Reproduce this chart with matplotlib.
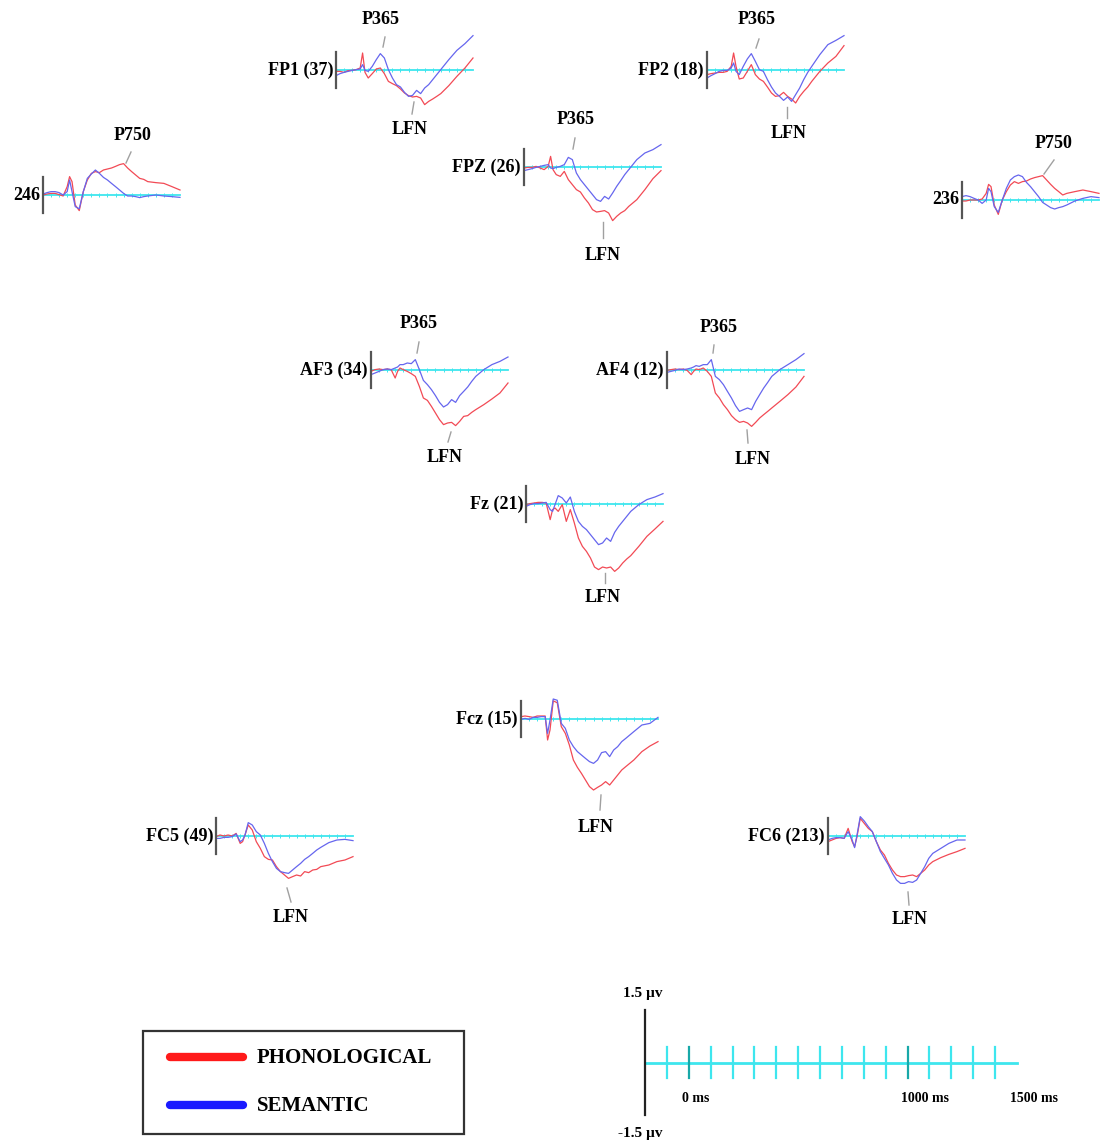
import matplotlib.pyplot as plt
from matplotlib.patches import Rectangle

W, H = 1102, 1144
FONT = ["Liberation Serif", "DejaVu Serif"]

# sample times (ms) shared by every trace
TIMES = [-200, -150, -100, -50, 0, 50, 100, 130, 160, 200, 250, 300, 350, 400,
         450, 500, 550, 600, 650, 700, 750, 800, 850, 900, 950, 1000, 1050,
         1100, 1200, 1300, 1400, 1500]

# amplitudes in microvolts (red = phonological, blue = semantic)
fp1_phon = [-0.11, -0.11, -0.19, -0.05, -0.03, 0.03, 0.16, 1.36, -0.19, -0.64, -0.29, 0.08, 0.16, -0.29, -0.91, -1.09,
            -1.25, -1.52, -1.84, -2.05, -2.16, -2.11, -2.24, -2.77, -2.51, -2.32, -2.11, -1.89, -1.25, -0.51, 0.16, 0.96]
fp1_sem = [-0.45, -0.29, -0.19, -0.11, -0.03, 0.03, 0.08, 0.43, -0.03, -0.11, 0.29, 0.83, 1.31, 0.96, 0.03, -0.64,
           -1.17, -1.36, -1.79, -2.11, -2.03, -1.63, -1.89, -1.44, -1.17, -0.77, -0.37, 0.03, 0.83, 1.57, 2.11, 2.75]

fp2_phon = [-0.37, -0.29, -0.24, -0.19, -0.19, -0.11, 0.29, 1.36, 0.29, -0.72, -0.64, -0.11, 0.43, -0.37, -0.72, -0.91,
            -1.36, -1.84, -2.11, -2.05, -1.79, -2.11, -2.32, -2.64, -2.11, -1.71, -1.36, -0.91, -0.11, 0.56, 1.09, 1.95]
fp2_sem = [-0.64, -0.45, -0.29, -0.11, -0.03, -0.03, 0.16, 0.56, -0.11, -0.37, 0.29, 0.88, 1.31, 0.69, 0.03, -0.11,
           -0.77, -1.36, -1.84, -2.11, -2.43, -2.16, -2.51, -1.97, -1.44, -0.77, -0.19, 0.29, 1.23, 2.03, 2.37, 2.75]

fpz_phon = [-0.08, -0.03, -0.03, 0.05, -0.08, -0.21, 0.05, 0.85, -0.21, -0.61, -0.75, -0.35, -1.01, -1.41, -1.81, -2.0,
            -2.48, -2.88, -3.41, -3.6, -3.55, -3.49, -3.68, -4.29, -3.95, -3.68, -3.49, -3.15, -2.61, -1.81, -0.93, -0.29]
fpz_sem = [-0.29, -0.21, -0.13, -0.03, 0.05, 0.13, 0.19, -0.08, -0.13, -0.03, 0.05, 0.19, 0.77, 0.59, -0.48, -1.01,
           -1.41, -1.81, -2.21, -2.61, -2.75, -2.35, -2.56, -2.08, -1.55, -1.09, -0.61, -0.21, 0.59, 1.12, 1.39, 1.79]

e246_phon = [0.0, 0.08, 0.13, 0.13, 0.03, -0.08, 0.67, 1.47, 1.07, -0.8, -1.25, 0.27, 1.2, 1.73, 1.87, 1.79,
             2.0, 2.08, 2.16, 2.29, 2.43, 2.51, 2.16, 1.87, 1.6, 1.33, 1.25, 1.07, 0.99, 0.93, 0.67, 0.4]
e246_sem = [0.08, 0.19, 0.27, 0.27, 0.19, 0.0, 0.27, 1.2, 0.27, -0.93, -1.1, 0.27, 1.33, 1.68, 2.0, 1.73,
            1.41, 1.2, 0.93, 0.67, 0.4, 0.13, -0.08, -0.08, -0.13, -0.21, -0.13, -0.08, 0.0, -0.08, -0.13, -0.19]

e236_phon = [-0.08, -0.08, 0.0, 0.0, 0.0, 0.08, 0.53, 1.25, 1.07, -0.4, -1.15, 0.0, 0.67, 1.2, 1.47, 1.33,
             1.47, 1.52, 1.68, 1.79, 1.87, 1.95, 1.6, 1.25, 0.93, 0.67, 0.4, 0.53, 0.67, 0.8, 0.67, 0.53]
e236_sem = [0.27, 0.35, 0.27, 0.13, 0.0, -0.27, 0.0, 0.93, 0.67, -0.53, -0.99, 0.0, 0.93, 1.6, 1.87, 2.0,
            1.87, 1.41, 1.07, 0.67, 0.27, -0.19, -0.4, -0.61, -0.72, -0.61, -0.53, -0.4, -0.08, 0.13, 0.27, 0.19]

af3_phon = [-0.11, 0.03, 0.08, 0.03, 0.08, 0.03, -0.64, -0.11, 0.16, 0.03, -0.11, -0.29, -0.51, -1.31, -2.24, -2.43,
            -2.91, -3.44, -3.97, -4.37, -4.24, -4.19, -4.45, -4.11, -3.71, -3.65, -3.39, -3.17, -2.77, -2.32, -1.84, -1.04]
af3_sem = [-0.37, -0.24, -0.11, 0.03, 0.08, 0.03, 0.16, 0.24, 0.43, 0.43, 0.56, 0.51, 0.83, 0.03, -0.83, -1.17,
           -1.57, -2.05, -2.59, -2.96, -2.77, -2.37, -2.59, -2.05, -1.71, -1.36, -0.91, -0.51, 0.03, 0.43, 0.69, 1.04]

af4_phon = [-0.03, 0.03, 0.08, 0.03, 0.08, -0.03, -0.37, -0.11, 0.08, 0.03, 0.16, -0.11, -0.51, -1.84, -2.24, -2.77,
            -3.17, -3.65, -3.97, -4.19, -4.11, -4.24, -4.51, -4.19, -3.84, -3.57, -3.31, -3.04, -2.51, -1.97, -1.36, -0.51]
af4_sem = [-0.19, -0.11, -0.03, 0.08, 0.03, 0.08, 0.16, 0.24, 0.35, 0.29, 0.43, 0.43, 0.83, -0.51, -0.77, -1.17,
           -1.71, -2.24, -2.85, -3.31, -3.17, -3.04, -3.17, -2.51, -1.97, -1.44, -0.99, -0.51, 0.03, 0.43, 0.83, 1.31]

fz_phon = [-0.05, 0.03, 0.08, 0.13, 0.13, 0.08, -1.25, -0.45, -0.32, -0.59, -0.05, -1.39, -0.45, -1.52, -2.72, -3.39,
           -3.79, -4.32, -5.04, -5.25, -5.04, -5.12, -5.04, -5.39, -5.12, -4.72, -4.4, -4.13, -3.39, -2.59, -2.0, -1.39]
fz_sem = [-0.19, -0.05, 0.03, 0.03, 0.08, 0.13, -0.45, -0.59, -0.05, 0.67, 0.48, 0.08, 0.56, -0.59, -1.39, -1.79,
          -2.05, -2.45, -2.85, -3.25, -3.12, -2.72, -2.99, -2.27, -1.79, -1.39, -0.99, -0.59, -0.05, 0.35, 0.56, 0.83]

fcz_phon = [0.19, 0.24, 0.19, 0.13, 0.24, 0.24, 0.24, -1.68, -0.88, 1.45, 1.3, -0.61, -1.15, -2.08, -3.28, -3.87,
            -4.35, -4.88, -5.41, -5.68, -5.47, -5.28, -5.01, -5.28, -4.88, -4.48, -4.08, -3.81, -3.28, -2.61, -2.16, -1.81]
fcz_sem = [-0.03, 0.05, -0.03, 0.13, 0.13, 0.19, 0.19, -1.15, -0.08, 1.6, 1.5, -0.35, -0.75, -1.68, -2.21, -2.61,
           -2.88, -3.15, -3.41, -3.55, -3.28, -2.69, -2.61, -3.01, -2.48, -2.21, -1.81, -1.55, -1.01, -0.48, -0.35, 0.13]

fc5_phon = [-0.05, 0.08, 0.0, 0.08, 0.0, 0.21, -0.59, -0.45, 0.08, 0.88, 0.48, -0.45, -0.99, -1.65, -1.87, -1.92,
            -2.45, -2.85, -3.12, -3.39, -3.25, -3.12, -3.2, -2.85, -2.93, -2.72, -2.67, -2.45, -2.32, -2.05, -1.92, -1.65]
fc5_sem = [-0.19, -0.19, -0.11, -0.11, -0.05, 0.16, -0.45, -0.32, 0.08, 1.07, 0.88, 0.35, 0.08, -0.59, -1.39, -2.05,
           -2.59, -2.85, -2.93, -2.99, -2.72, -2.45, -2.19, -1.87, -1.65, -1.39, -1.12, -0.91, -0.53, -0.32, -0.27, -0.37]

fc6_phon = [-0.45, -0.32, -0.19, -0.13, -0.19, 0.61, -0.45, -0.85, -0.05, 1.41, 1.01, 0.61, 0.35, -0.45, -1.12, -1.52,
            -2.19, -2.72, -3.12, -3.25, -3.25, -3.17, -3.12, -3.25, -2.99, -2.72, -2.32, -2.05, -1.73, -1.47, -1.25, -0.99]
fc6_sem = [-0.32, -0.19, -0.13, -0.13, -0.19, 0.35, -0.32, -0.93, 0.08, 1.55, 1.2, 0.75, 0.35, -0.45, -1.25, -1.79,
           -2.32, -2.99, -3.52, -3.79, -3.79, -3.65, -3.71, -3.52, -2.99, -2.45, -1.79, -1.39, -0.99, -0.59, -0.32, -0.32]

# electrode label, traces, and where the amplitude bar / baseline sit (pixels)
PANELS = [
    ("FP1 (37)", fp1_phon, fp1_sem, 336, 70),
    ("FP2 (18)", fp2_phon, fp2_sem, 707, 70),
    ("246", e246_phon, e246_sem, 43, 195),
    ("FPZ (26)", fpz_phon, fpz_sem, 524, 167),
    ("236", e236_phon, e236_sem, 962, 200),
    ("AF3 (34)", af3_phon, af3_sem, 371, 370),
    ("AF4 (12)", af4_phon, af4_sem, 667, 370),
    ("Fz (21)", fz_phon, fz_sem, 526, 504),
    ("Fcz (15)", fcz_phon, fcz_sem, 521, 719),
    ("FC5 (49)", fc5_phon, fc5_sem, 216, 836),
    ("FC6 (213)", fc6_phon, fc6_sem, 828, 836),
]

# component tags: text, text position, pointer line
PEAK_TAGS = [
    ("P365", 381, 19, 385, 37, 383, 47),
    ("LFN", 410, 129, 414, 102, 412, 114),
    ("P365", 757, 20, 759, 39, 756, 48),
    ("LFN", 789, 133, 787, 107, 787, 118),
    ("P750", 133, 136, 131, 152, 126, 163),
    ("P365", 576, 120, 575, 138, 573, 149),
    ("LFN", 603, 255, 603, 222, 603, 238),
    ("P750", 1054, 143, 1054, 160, 1044, 174),
    ("P365", 419, 323, 419, 342, 417, 353),
    ("LFN", 445, 458, 451, 432, 448, 442),
    ("P365", 719, 328, 714, 345, 713, 353),
    ("LFN", 753, 459, 747, 430, 748, 443),
    ("LFN", 603, 597, 605, 573, 605, 583),
    ("LFN", 596, 828, 601, 795, 600, 810),
    ("LFN", 291, 917, 287, 888, 291, 902),
    ("LFN", 910, 919, 908, 892, 909, 905),
]

SCALE_TICKS = list(range(-100, 1500, 100))
SCALE_LABELS = [0, 1000, 1500]
LEGEND = [("PHONOLOGICAL", "#ff1a1a"), ("SEMANTIC", "#1a1aff")]

RED = "#f24a55"
BLUE = "#6666ee"
CYAN = "#3ee6ee"
TEAL = "#18a8a8"

PX_PER_MS = 137 / 1700
PX_PER_UV = 12.5
Y_TOP, Y_BOT = 3.5, -6.0

fig = plt.figure(figsize=(W / 100, H / 100), dpi=100)
fig.patch.set_facecolor("white")

base = fig.add_axes([0, 0, 1, 1])
base.set_xlim(0, W)
base.set_ylim(H, 0)
base.axis("off")

for name, phon, sem, bx, by in PANELS:
    rect = [bx / W,
            1 - (by - Y_BOT * PX_PER_UV) / H,
            1700 * PX_PER_MS / W,
            (Y_TOP - Y_BOT) * PX_PER_UV / H]
    ax = fig.add_axes(rect)
    ax.set_xlim(-200, 1500)
    ax.set_ylim(Y_BOT, Y_TOP)
    ax.axis("off")
    ax.plot([-200, 1500], [0, 0], color=CYAN, lw=1.3, clip_on=False)
    ax.plot(SCALE_TICKS, [0] * len(SCALE_TICKS), ls="none", marker="|",
            ms=3, mew=0.7, color=CYAN, clip_on=False)
    ax.plot(TIMES, phon, color=RED, lw=0.9, clip_on=False)
    ax.plot(TIMES, sem, color=BLUE, lw=0.9, clip_on=False)
    ax.plot([-200, -200], [-1.45, 1.45], color="#555555", lw=1.6, clip_on=False)
    base.text(bx - 3, by, name, ha="right", va="center", fontsize=13,
              fontweight="bold", family=FONT)

for tag, tx, ty, x0, y0, x1, y1 in PEAK_TAGS:
    base.text(tx, ty, tag, ha="center", va="center", fontsize=13,
              fontweight="bold", family=FONT)
    base.plot([x0, x1], [y0, y1], color="#a0a0a0", lw=1.0)

# scale bar
sc = fig.add_axes([645 / W, 1 - 1115 / H, 372 / W, 105 / H])
sc.set_xlim(-200, 1500)
sc.set_ylim(-1.5, 1.5)
sc.axis("off")
sc.plot([-200, 1500], [0, 0], color=CYAN, lw=2, clip_on=False)
for t in SCALE_TICKS:
    sc.plot([t, t], [-0.43, 0.43], color=TEAL if t in (0, 1000) else CYAN,
            lw=1.6, clip_on=False)
sc.plot([-200, -200], [-1.5, 1.5], color="#222222", lw=1.6, clip_on=False)
sc.text(-212, 1.96, "1.5 \u00b5v", ha="center", va="center", fontsize=11,
        fontweight="bold", family=FONT)
sc.text(-222, -2.03, "-1.5 \u00b5v", ha="center", va="center", fontsize=11,
        fontweight="bold", family=FONT)
for t in SCALE_LABELS:
    sc.text(t - 30, -1.03, f"{t} ms", ha="left", va="center", fontsize=10,
            fontweight="bold", family=FONT)

# legend box
base.add_patch(Rectangle((143, 1031), 321, 103, fill=False,
                         edgecolor="#333333", lw=1.6))
for i, (lab, col) in enumerate(LEGEND):
    y = 1057 + i * 48
    base.plot([170, 243], [y, y], color=col, lw=6, solid_capstyle="round")
    base.text(257, y + 1, lab, ha="left", va="center", fontsize=15,
              fontweight="bold", family=FONT)

fig.savefig("out.png", dpi=100)
